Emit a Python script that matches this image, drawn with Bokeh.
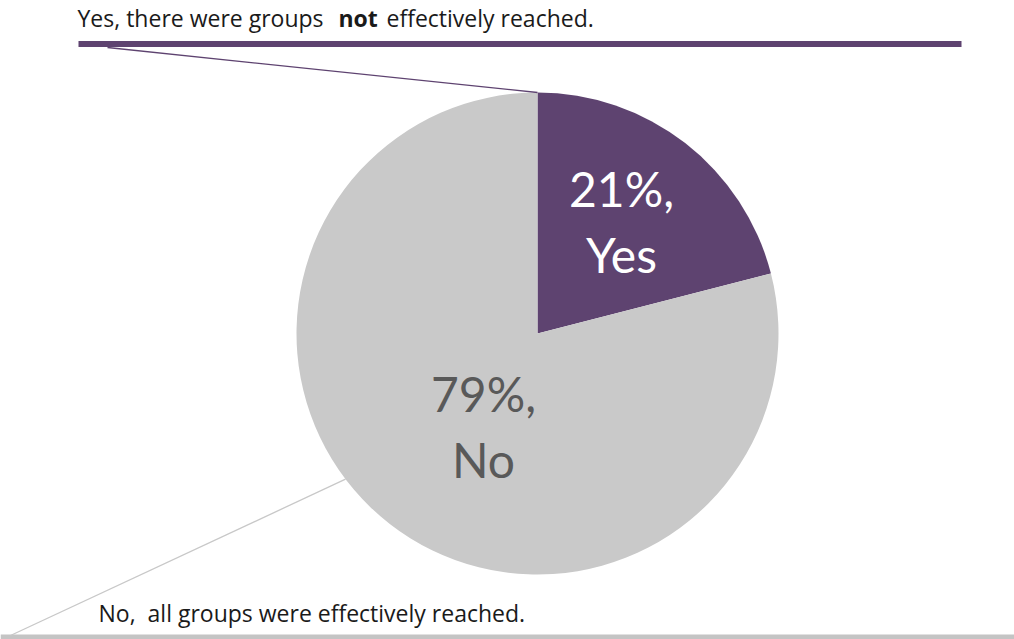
import math
from bokeh.plotting import figure
from bokeh.models import Range1d, ColumnDataSource
from bokeh.core.properties import value
from bokeh.embed import file_html
from bokeh.resources import INLINE

# ---- data ----
categories = ["Yes", "No"]
percents = [21, 79]
colors = ["#5E4370", "#C9C9C9"]
label_colors = ["#FFFFFF", "#595959"]
top_note = ["Yes, there were groups ", "not", "effectively reached."]
bottom_note = "No,\u00a0 all groups were effectively reached."

# ---- layout (pixel-like coordinates, y measured upward) ----
W, H = 1014, 639
FONT = "Lato"
NOTE_FONT = "Open Sans"
NOTE_SIZE = "23px"
cx, cy, R = 537, 306, 241

p = figure(width=W, height=H, output_backend="svg", toolbar_location=None,
           x_range=Range1d(0, W), y_range=Range1d(0, H),
           min_border=0, outline_line_color=None, background_fill_color="white")
p.axis.visible = False
p.grid.visible = False

# wedges: start at 12 o'clock, go clockwise
total = float(sum(percents))
starts, ends = [], []
a = math.pi / 2
for v in percents:
    sweep = 2 * math.pi * v / total
    starts.append(a - sweep)
    ends.append(a)
    a -= sweep
src = ColumnDataSource(dict(cat=categories, val=percents, start=starts, end=ends, color=colors))
p.wedge(x=cx, y=cy, radius=R, start_angle="start", end_angle="end",
        fill_color="color", line_color=None, source=src)

# slice labels
lab_pos = {"Yes": (621, 451, 385), "No": (483, 246, 180)}
for cat, v, col in zip(categories, percents, label_colors):
    x, y1, y2 = lab_pos[cat]
    p.text(x=[x, x], y=[y1, y2], text=[f"{v}%,", cat], text_font=value(FONT),
           text_font_size="48px", text_color=col, text_align="center",
           text_baseline="alphabetic")

# top callout
p.line(x=[78, 961], y=[595.5, 595.5], line_color="#5E4370", line_width=6)
p.line(x=[107, cx], y=[592, cy + R], line_color="#5E4370", line_width=1.3)
p.text(x=[77], y=[622], text=[top_note[0]], text_font=value(NOTE_FONT), text_font_size=NOTE_SIZE,
       text_color="#1a1a1a", text_baseline="alphabetic")
p.text(x=[338], y=[622], text=[top_note[1]], text_font=value(NOTE_FONT), text_font_size=NOTE_SIZE,
       text_font_style="bold", text_color="#1a1a1a", text_baseline="alphabetic")
p.text(x=[386], y=[622], text=[top_note[2]], text_font=value(NOTE_FONT), text_font_size=NOTE_SIZE,
       text_color="#1a1a1a", text_baseline="alphabetic")

# bottom callout
ang = math.radians(217.2)
p.line(x=[0, W], y=[2.5, 2.5], line_color="#C4C4C4", line_width=5)
p.line(x=[10, cx + R * math.cos(ang)], y=[4, cy + R * math.sin(ang)],
       line_color="#C8C8C8", line_width=1.3)
p.text(x=[98], y=[27], text=[bottom_note], text_font=value(NOTE_FONT), text_font_size=NOTE_SIZE,
       text_color="#1a1a1a", text_baseline="alphabetic")

open("out.html", "w").write(file_html(p, INLINE))
